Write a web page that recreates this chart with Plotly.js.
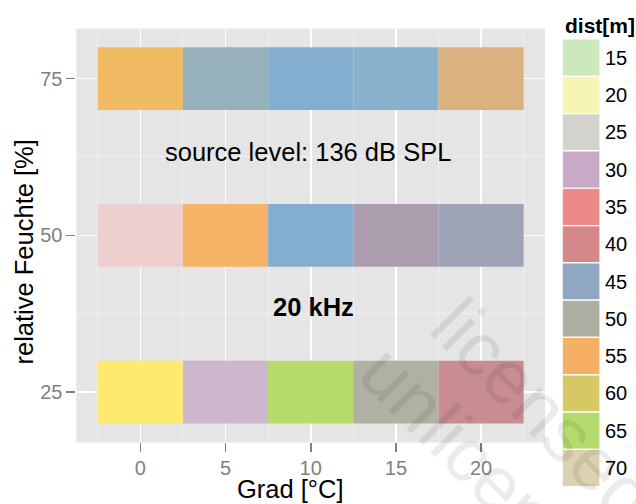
<!DOCTYPE html>
<html>
<head>
<meta charset="utf-8">
<script src="https://cdn.plot.ly/plotly-3.0.1.min.js"></script>
<style>html,body{margin:0;padding:0;background:#fff;}#chart{width:636px;height:504px;}</style>
</head>
<body>
<div id="chart"></div>
<script>
// ---- data ----
const temps = [0, 5, 10, 15, 20];              // Grad [°C]
const humidity = [25, 50, 75];                 // relative Feuchte [%]
const tileColors25 = ['#FFEA70', '#CDB7CC', '#B7DB6B', '#B0B1A2', '#C78D92'];
const tileColors50 = ['#EECFCF', '#F6B367', '#84AECF', '#AB9DAE', '#9EA3B8'];
const tileColors75 = ['#F1BB63', '#97B1BC', '#84AECF', '#89B1CB', '#DBB27F'];
const distLevels = [15, 20, 25, 30, 35, 40, 45, 50, 55, 60, 65, 70];
const distColors = ['#CBE9BC', '#F6F6B4', '#D4D2CC', '#C9AAC6', '#EC8A88', '#D5888A',
                    '#90A7C1', '#AEAFA2', '#F6B066', '#D7C866', '#B4DB6E', '#DDD2B0'];
const xTickStep = 5;
const yTickStep = 25;

// ---- drawing ----
const FONT = 'Liberation Sans, Arial, Helvetica, sans-serif';
const TILE_W = 5, TILE_H = 10;
const rows = [[humidity[0], tileColors25], [humidity[1], tileColors50], [humidity[2], tileColors75]];

const traces = rows.map(([h, cols]) => ({
  type: 'bar',
  x: temps,
  y: temps.map(() => TILE_H),
  base: temps.map(() => h - TILE_H / 2),
  width: TILE_W,
  marker: { color: cols, line: { width: 0 } },
  xaxis: 'x', yaxis: 'y',
  hoverinfo: 'skip',
  showlegend: false
}));

traces.push({
  type: 'bar',
  orientation: 'h',
  x: distLevels.map(() => 1),
  y: distLevels.map(String),
  width: 1,
  marker: { color: distColors, line: { color: '#FFFFFF', width: 1.2 } },
  xaxis: 'x2', yaxis: 'y2',
  hoverinfo: 'skip',
  showlegend: false
});

const W = 636, H = 504;
const px = v => v / W;
const py = v => 1 - v / H;

const layout = {
  width: W, height: H,
  margin: { l: 0, r: 0, t: 0, b: 0, pad: 0 },
  paper_bgcolor: '#FFFFFF',
  plot_bgcolor: 'rgba(0,0,0,0)',
  barmode: 'overlay',
  showlegend: false,
  font: { family: FONT, color: '#000000' },
  xaxis: {
    domain: [px(76.4), px(545)],
    range: [-3.75, 23.75],
    tickmode: 'linear', tick0: 0, dtick: xTickStep,
    ticks: 'outside', ticklen: 9, tickwidth: 1.6, tickcolor: '#7F7F7F',
    tickfont: { size: 20, color: '#7F7F7F', family: FONT },
    ticklabelstandoff: -1,
    showgrid: true, gridcolor: '#FFFFFF', gridwidth: 1.6,
    minor: { dtick: xTickStep / 2, showgrid: true, gridcolor: '#F2F2F2', gridwidth: 0.8, ticks: '' },
    zeroline: false, showline: false, anchor: 'y', fixedrange: true
  },
  yaxis: {
    domain: [py(442.4), py(28.4)],
    range: [17, 83],
    tickmode: 'linear', tick0: 0, dtick: yTickStep,
    ticks: 'outside', ticklen: 9, tickwidth: 1.6, tickcolor: '#7F7F7F',
    tickfont: { size: 20, color: '#7F7F7F', family: FONT },
    showgrid: true, gridcolor: '#FFFFFF', gridwidth: 1.6,
    minor: { dtick: yTickStep / 2, showgrid: true, gridcolor: '#F2F2F2', gridwidth: 0.8, ticks: '' },
    zeroline: false, showline: false, anchor: 'x', fixedrange: true
  },
  xaxis2: {
    domain: [px(562.3), px(600)],
    range: [0, 1],
    visible: false, showgrid: false, zeroline: false, anchor: 'y2', fixedrange: true
  },
  yaxis2: {
    domain: [py(486.7), py(39)],
    type: 'category',
    autorange: 'reversed',
    side: 'right',
    anchor: 'x2',
    ticks: '', showgrid: false, zeroline: false, showline: false,
    tickfont: { size: 20, color: '#000000', family: FONT },
    ticklabelstandoff: 4,
    fixedrange: true
  },
  shapes: [{
    type: 'rect', xref: 'x domain', yref: 'y domain',
    x0: 0, x1: 1, y0: 0, y1: 1,
    fillcolor: '#E5E5E5', line: { width: 0 }, layer: 'below'
  }],
  annotations: [
    { text: 'source level: 136 dB SPL', x: 9.85, y: 63.3, xref: 'x', yref: 'y',
      showarrow: false, xanchor: 'center', yanchor: 'middle',
      font: { size: 25.5, color: '#000000', family: FONT } },
    { text: '<b>20 kHz</b>', x: 10.18, y: 38.6, xref: 'x', yref: 'y',
      showarrow: false, xanchor: 'center', yanchor: 'middle',
      font: { size: 25.5, color: '#000000', family: FONT } },
    { text: 'Grad [°C]', x: px(290.5), y: py(488.5), xref: 'paper', yref: 'paper',
      showarrow: false, xanchor: 'center', yanchor: 'middle',
      font: { size: 25.5, color: '#000000', family: FONT } },
    { text: 'relative Feuchte [%]', x: px(23), y: py(252.5), xref: 'paper', yref: 'paper',
      showarrow: false, xanchor: 'center', yanchor: 'middle', textangle: -90,
      font: { size: 25.5, color: '#000000', family: FONT } },
    { text: '<b>dist[m]</b>', x: px(562.7), y: py(25), xref: 'paper', yref: 'paper',
      showarrow: false, xanchor: 'left', yanchor: 'middle',
      font: { size: 21, color: '#000000', family: FONT } },
    { text: 'licensed', x: px(544), y: py(410), xref: 'paper', yref: 'paper',
      showarrow: false, xanchor: 'center', yanchor: 'middle', textangle: 45,
      font: { size: 76, color: 'rgba(0,0,0,0.08)', family: FONT } },
    { text: 'unlicensed', x: px(502), y: py(486), xref: 'paper', yref: 'paper',
      showarrow: false, xanchor: 'center', yanchor: 'middle', textangle: 45,
      font: { size: 76, color: 'rgba(0,0,0,0.08)', family: FONT } }
  ]
};

Plotly.newPlot('chart', traces, layout, { displayModeBar: false, staticPlot: true });
</script>
</body>
</html>
